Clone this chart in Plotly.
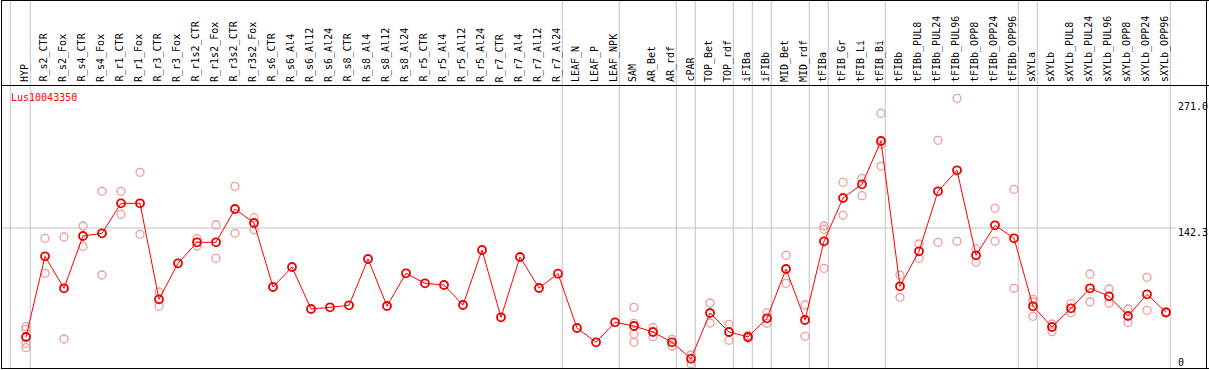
import plotly.graph_objects as go

categories = ["HYP", "R_s2_CTR", "R_s2_Fox", "R_s4_CTR", "R_s4_Fox", "R_r1_CTR", "R_r1_Fox",
              "R_r3_CTR", "R_r3_Fox", "R_r1s2_CTR", "R_r1s2_Fox", "R_r3s2_CTR", "R_r3s2_Fox",
              "R_s6_CTR", "R_s6_Al4", "R_s6_Al12", "R_s6_Al24", "R_s8_CTR", "R_s8_Al4", "R_s8_Al12",
              "R_s8_Al24", "R_r5_CTR", "R_r5_Al4", "R_r5_Al12", "R_r5_Al24", "R_r7_CTR", "R_r7_Al4",
              "R_r7_Al12", "R_r7_Al24", "LEAF_N", "LEAF_P", "LEAF_NPK", "SAM", "AR_Bet", "AR_rdf",
              "cPAR", "TOP_Bet", "TOP_rdf", "iFIBa", "iFIBb", "MID_Bet", "MID_rdf", "tFIBa",
              "tFIB_Gr", "tFIB_Li", "tFIB_Bi", "tFIBb", "tFIBb_PUL8", "tFIBb_PUL24", "tFIBb_PUL96",
              "tFIBb_OPP8", "tFIBb_OPP24", "tFIBb_OPP96", "sXYLa", "sXYLb", "sXYLb_PUL8",
              "sXYLb_PUL24", "sXYLb_PUL96", "sXYLb_OPP8", "sXYLb_OPP24", "sXYLb_OPP96"]

means = [33.3, 114, 82, 134.3, 137, 167, 167, 71, 107, 128, 128, 161.3, 147.3,
         83.3, 103.3, 61.3, 63, 65, 111.3, 64.3, 97, 87, 85.3, 65.3, 120.3, 53, 113.3,
         82.3, 96.6, 42.3, 28, 48, 44.3, 38.3, 28, 11.6, 57.3, 38.3, 33.3, 52, 101.3, 50.3,
         129, 172.3, 186, 229.3, 84, 119, 179, 200, 115, 145, 132, 64, 43.3, 62, 82, 74,
         54.3, 76, 58]

replicates = [[43.6, 41, 27, 22.6], [132, 97], [133.3, 31.3], [144.3, 124], [179, 95.3],
              [179, 156], [198, 136], [78.3, 64], [], [131.6, 124.3], [145.3, 112], [184, 137],
              [152.6, 140.6], [], [], [], [], [], [], [], [], [], [], [], [], [], [], [], [],
              [], [], [], [63, 47, 36, 28], [42.6, 33.6], [31, 24.3], [15.3, 6.3], [67.3, 47.3],
              [46, 30], [35, 32], [57.6, 47], [115, 87], [65.3, 34], [144.3, 141, 102],
              [188, 155], [192, 174.6], [257, 226, 204], [95.3, 73], [126.3, 112], [230, 128],
              [272, 129], [121.6, 108], [162, 129], [181, 82], [71, 68.3, 54], [46.3, 38.6],
              [66.6, 57.6], [96.3, 68.3], [81.3, 67], [61.3, 47.6], [93, 60], [58.5, 57]]

group_ends = ["HYP", "R_r7_Al24", "LEAF_NPK", "AR_rdf", "cPAR", "TOP_rdf", "iFIBa", "iFIBb",
              "MID_rdf", "tFIBa", "tFIB_Bi", "tFIBb_OPP96", "sXYLa", "sXYLb_OPP96"]
gene = "Lus10043350"
y_ticks = [271.0, 142.3, 0]

# ---- layout geometry (pixels) ----
W, H = 1209, 370
PL, PR, PT, PB = 2, 1207, 86, 369   # plot area edges
X0, DX = 26, 19                      # category pixel position
XR = [(PL - X0) / DX, (PR - X0) / DX]
YOFF = 370.3
YR = [YOFF - PB, YOFF - PT]


def px_x(p):
    return (p - PL) / (PR - PL)


def px_y(p):
    return (PB - p) / (PB - PT)


def cat_px(i):
    return X0 + DX * i


idx = list(range(len(categories)))
rx, ry = [], []
for i, reps in enumerate(replicates):
    for r in reps:
        rx.append(i)
        ry.append(r)

fig = go.Figure()
fig.add_trace(go.Scatter(x=rx, y=ry, mode="markers",
                         marker=dict(symbol="circle-open", size=8, color="#f09a9a",
                                     line=dict(width=1.3, color="#f09a9a")),
                         hoverinfo="skip", showlegend=False))
fig.add_trace(go.Scatter(x=idx, y=means, mode="lines+markers",
                         line=dict(color="#ff0000", width=1),
                         marker=dict(symbol="circle-open", size=8, color="#ee0000",
                                     line=dict(width=1.8, color="#ee0000")),
                         showlegend=False))

shapes = []
grey = "#c4c4c4"
# horizontal grid at middle tick
shapes.append(dict(type="line", xref="paper", yref="y", x0=px_x(PL), x1=px_x(1176),
                   y0=y_ticks[1], y1=y_ticks[1], line=dict(color=grey, width=1), layer="below"))
# vertical separators
vx = [10.3] + [cat_px(categories.index(c)) + 4.3 for c in group_ends]
for p in vx:
    shapes.append(dict(type="line", xref="paper", yref="paper", x0=px_x(p), x1=px_x(p),
                       y0=0, y1=px_y(0), line=dict(color=grey, width=1), layer="below"))
# black frame
blk = dict(color="black", width=1)
shapes.append(dict(type="line", xref="paper", yref="paper", x0=px_x(1.5), x1=px_x(1.5),
                   y0=px_y(PB), y1=px_y(0.5), line=blk))
shapes.append(dict(type="line", xref="paper", yref="paper", x0=px_x(1206.5), x1=px_x(1206.5),
                   y0=px_y(PB), y1=px_y(0.5), line=blk))
shapes.append(dict(type="line", xref="paper", yref="paper", x0=px_x(1), x1=px_x(1209),
                   y0=px_y(0.5), y1=px_y(0.5), line=blk))
shapes.append(dict(type="line", xref="paper", yref="paper", x0=px_x(1), x1=px_x(1209),
                   y0=px_y(85.5), y1=px_y(85.5), line=blk))
shapes.append(dict(type="line", xref="paper", yref="paper", x0=px_x(1), x1=px_x(1209),
                   y0=px_y(368.5), y1=px_y(368.5), line=blk))

mono = "DejaVu Sans Mono"
ann = []
for i, c in enumerate(categories):
    ann.append(dict(text=c, xref="paper", yref="paper", x=px_x(cat_px(i) - 1), y=px_y(84),
                    xanchor="center", yanchor="bottom", textangle=-90, showarrow=False,
                    font=dict(family=mono, size=10, color="black")))
ann.append(dict(text=gene, xref="paper", yref="paper", x=px_x(9), y=px_y(97.5),
                xanchor="left", yanchor="middle", showarrow=False,
                font=dict(family=mono, size=10, color="#ff0000")))
label_tops = [100, 225.5, 355.5]
for v, t in zip(y_ticks, label_tops):
    txt = "0" if v == 0 else f"{v:.1f}"
    ann.append(dict(text=txt, xref="paper", yref="paper", x=px_x(1176.5), y=px_y(t),
                    xanchor="left", yanchor="top", showarrow=False, borderpad=0,
                    font=dict(family=mono, size=10, color="black")))

fig.update_layout(
    width=W, height=H,
    margin=dict(l=PL, r=W - PR, t=PT, b=H - PB, pad=0),
    paper_bgcolor="white", plot_bgcolor="white",
    xaxis=dict(range=XR, showgrid=False, zeroline=False, showticklabels=False, ticks="",
               showline=False),
    yaxis=dict(range=YR, showgrid=False, zeroline=False, showticklabels=False, ticks="",
               showline=False),
    shapes=shapes, annotations=ann,
)
fig.write_html("out.html", config={"displayModeBar": False})

# remove the default browser body margin so the figure sits at the window's top-left
with open("out.html", "r", encoding="utf-8") as f:
    html = f.read()
html = html.replace("<body>", '<body style="margin:0;padding:0;overflow:hidden">', 1)
html = html.replace("<head>", "<head><style>html,body{margin:0;padding:0;}</style>", 1)
with open("out.html", "w", encoding="utf-8") as f:
    f.write(html)
